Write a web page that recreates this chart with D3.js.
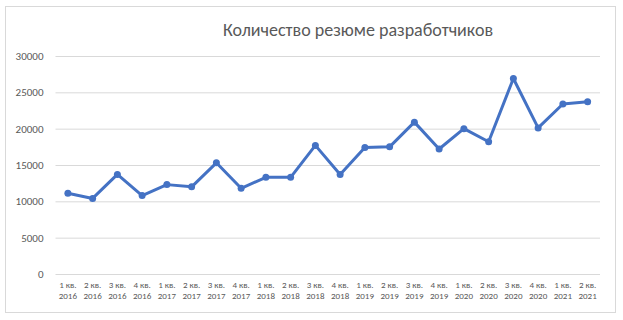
<!DOCTYPE html>
<html>
<head>
<meta charset="utf-8">
<script src="https://cdn.jsdelivr.net/npm/d3@7"></script>
<style>
    body { margin: 0; background: #fff; }
    svg { display: block; }
</style>
</head>
<body>
<script>
"use strict";
(function(){
    // quarters and years shown on the x axis
    const quarters = ["1 кв.", "2 кв.", "3 кв.", "4 кв.", "1 кв.", "2 кв.", "3 кв.", "4 кв.",
                      "1 кв.", "2 кв.", "3 кв.", "4 кв.", "1 кв.", "2 кв.", "3 кв.", "4 кв.",
                      "1 кв.", "2 кв.", "3 кв.", "4 кв.", "1 кв.", "2 кв."];
    const years = ["2016", "2016", "2016", "2016", "2017", "2017", "2017", "2017",
                   "2018", "2018", "2018", "2018", "2019", "2019", "2019", "2019",
                   "2020", "2020", "2020", "2020", "2021", "2021"];
    const resumes = [11100, 10400, 13700, 10800, 12300, 12000, 15300, 11800,
                     13300, 13300, 17700, 13700, 17400, 17500, 20900, 17200,
                     20000, 18200, 26900, 20100, 23400, 23700];
    const yTicks = [0, 5000, 10000, 15000, 20000, 25000, 30000];
    const title = "Количество резюме разработчиков";

    const measurements = {
        width: 623,
        height: 320,
        left: 55.5,
        right: 600,
        top: 56,
        bottom: 274
    };

    const font = "Carlito, Calibri, 'Open Sans', 'Noto Sans', sans-serif";
    const textColor = "#595959";

    const svg = d3.select("body").append("svg")
        .attr("width", measurements.width)
        .attr("height", measurements.height);

    // chart area frame
    svg.append("rect")
        .attr("x", 5.5)
        .attr("y", 6.5)
        .attr("width", 610)
        .attr("height", 306)
        .attr("fill", "#fff")
        .attr("stroke", "#d9d9d9");

    svg.append("text")
        .attr("x", 358)
        .attr("y", 36)
        .attr("text-anchor", "middle")
        .style("font-family", font)
        .style("font-size", "18px")
        .attr("fill", textColor)
        .text(title);

    const idx = d3.range(resumes.length);

    const scaleX = d3.scaleBand()
        .domain(idx)
        .range([measurements.left, measurements.right]);

    const scaleY = d3.scaleLinear()
        .domain([0, 30000])
        .range([measurements.bottom, measurements.top]);

    // gridlines + y labels
    const yAxis = d3.axisLeft(scaleY)
        .tickValues(yTicks)
        .tickSize(-(measurements.right - measurements.left))
        .tickPadding(12)
        .tickFormat(d3.format("d"));

    const gy = svg.append("g")
        .attr("transform", "translate(" + measurements.left + ",0)")
        .call(yAxis);
    gy.select(".domain").remove();
    gy.selectAll(".tick line").attr("stroke", "#d9d9d9");
    gy.selectAll(".tick text")
        .attr("fill", textColor)
        .style("font-family", font)
        .style("font-size", "11px");

    // x labels, two lines each
    const xAxis = d3.axisBottom(scaleX)
        .tickSize(0)
        .tickFormat("");
    const gx = svg.append("g")
        .attr("transform", "translate(0," + measurements.bottom + ")")
        .call(xAxis);
    gx.select(".domain").remove();
    gx.selectAll(".tick").each(function(d) {
        const t = d3.select(this).append("text")
            .attr("text-anchor", "middle")
            .attr("fill", textColor)
            .style("font-family", font)
            .style("font-size", "9px");
        t.append("tspan").attr("x", 0).attr("y", 14).text(quarters[d]);
        t.append("tspan").attr("x", 0).attr("y", 25).text(years[d]);
    });

    const xMap = (d, i) => scaleX(i) + scaleX.bandwidth() / 2;
    const yMap = (d) => scaleY(d);

    const line = d3.line()
        .x(xMap)
        .y(yMap);

    svg.append("path")
        .datum(resumes)
        .attr("d", line)
        .attr("fill", "none")
        .attr("stroke", "#4472c4")
        .attr("stroke-width", 3)
        .attr("stroke-linejoin", "round");

    svg.selectAll(".dot")
        .data(resumes)
        .enter()
        .append("circle")
        .attr("class", "dot")
        .attr("cx", xMap)
        .attr("cy", yMap)
        .attr("r", 3.5)
        .attr("fill", "#4472c4");
})()
</script>
</body>
</html>
